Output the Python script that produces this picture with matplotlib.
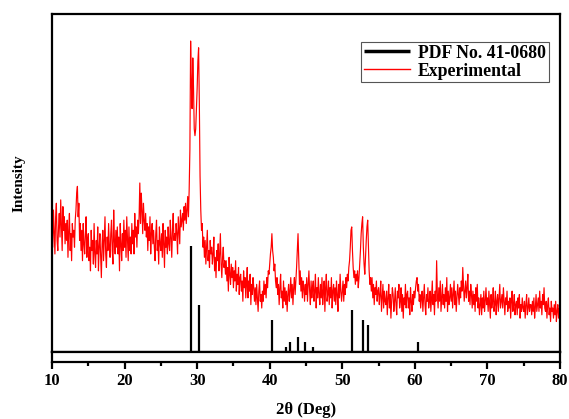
import numpy as np
import matplotlib.pyplot as plt

plt.rcParams['font.family'] = ['Liberation Serif', 'DejaVu Serif']
plt.rcParams['font.weight'] = 'bold'

# experimental pattern, 2theta from 10 to 80 in 0.1 deg steps
two_theta = np.round(np.arange(10.0, 80.05, 0.1), 1)
intensity = [
    38, 31, 42, 35, 29, 40, 44, 33, 30, 37,   # 10
    41, 34, 45, 38, 30, 43, 36, 40, 32, 38,   # 11
    33, 39, 28, 36, 41, 30, 35, 27, 38, 34,   # 12
    36, 31, 39, 42, 47, 49, 40, 44, 33, 38,   # 13
    30, 36, 27, 38, 32, 29, 35, 40, 28, 33,   # 14
    35, 27, 31, 24, 36, 30, 33, 26, 38, 29,   # 15
    25, 33, 29, 37, 24, 31, 35, 28, 22, 32,   # 16
    36, 27, 33, 40, 29, 25, 34, 30, 38, 31,   # 17
    28, 35, 39, 30, 26, 42, 33, 29, 36, 31,   # 18
    37, 29, 34, 24, 38, 32, 27, 35, 30, 39,   # 19
    31, 36, 28, 40, 33, 27, 37, 30, 34, 29,   # 20
    38, 32, 36, 29, 41, 34, 37, 31, 39, 35,   # 21
    40, 50, 38, 47, 42, 35, 44, 39, 36, 41,   # 22
    34, 38, 30, 37, 33, 40, 29, 35, 38, 32,   # 23
    36, 31, 27, 35, 39, 30, 33, 26, 37, 32,   # 24
    30, 35, 28, 38, 32, 25, 36, 31, 34, 29,   # 25
    37, 32, 30, 39, 34, 28, 36, 41, 33, 35,   # 26
    33, 38, 35, 29, 40, 36, 32, 42, 37, 39,   # 27
    41, 36, 43, 39, 44, 38, 42, 46, 40, 48,   # 28
    60, 92, 80, 72, 87, 78, 66, 64, 66, 72,   # 29
    78, 86, 90, 74, 52, 42, 36, 38, 31, 34,   # 30
    28, 33, 26, 31, 36, 27, 30, 25, 33, 29,   # 31
    31, 26, 29, 34, 24, 28, 22, 30, 27, 32,   # 32
    24, 29, 35, 26, 22, 28, 31, 25, 27, 23,   # 33
    27, 21, 25, 18, 28, 23, 20, 26, 22, 25,   # 34
    19, 24, 21, 27, 18, 23, 20, 25, 17, 22,   # 35
    23, 18, 21, 15, 24, 19, 22, 16, 20, 25,   # 36
    16, 21, 18, 23, 14, 20, 17, 22, 19, 15,   # 37
    19, 14, 20, 16, 12, 18, 21, 15, 17, 13,   # 38
    18, 15, 21, 17, 20, 16, 22, 19, 24, 23,   # 39
    26, 29, 31, 35, 30, 28, 24, 26, 21, 19,   # 40
    22, 17, 20, 14, 19, 23, 16, 18, 13, 21,   # 41
    15, 19, 14, 18, 12, 17, 20, 15, 18, 22,   # 42
    16, 20, 14, 19, 22, 17, 21, 25, 30, 35,   # 43
    27, 20, 24, 18, 22, 16, 21, 19, 15, 20,   # 44
    17, 22, 15, 20, 24, 18, 14, 21, 16, 19,   # 45
    21, 15, 18, 23, 13, 19, 16, 22, 17, 14,   # 46
    20, 16, 22, 14, 18, 21, 12, 19, 23, 15,   # 47
    17, 21, 14, 19, 16, 22, 13, 18, 20, 15,   # 48
    19, 14, 21, 17, 12, 20, 16, 23, 18, 15,   # 49
    18, 21, 15, 20, 17, 22, 19, 23, 21, 25,   # 50
    27, 31, 36, 37, 30, 25, 22, 24, 20, 23,   # 51
    21, 24, 19, 22, 26, 30, 35, 38, 40, 31,   # 52
    26, 23, 28, 33, 37, 39, 32, 24, 20, 22,   # 53
    18, 22, 16, 20, 14, 19, 17, 21, 15, 18,   # 54
    19, 14, 17, 21, 12, 16, 20, 13, 18, 15,   # 55
    14, 18, 11, 16, 20, 13, 17, 10, 15, 19,   # 56
    17, 12, 15, 19, 14, 11, 18, 16, 20, 13,   # 57
    15, 19, 12, 17, 10, 16, 14, 20, 13, 17,   # 58
    18, 13, 16, 11, 19, 15, 12, 17, 14, 18,   # 59
    16, 19, 21, 22, 18, 20, 15, 17, 13, 16,   # 60
    18, 12, 16, 20, 14, 11, 17, 15, 19, 13,   # 61
    15, 18, 12, 16, 21, 14, 17, 11, 18, 15,   # 62
    27, 17, 13, 19, 15, 21, 12, 16, 20, 14,   # 63
    17, 13, 19, 15, 22, 12, 18, 14, 16, 20,   # 64
    15, 19, 13, 17, 21, 14, 18, 12, 16, 20,   # 65
    17, 14, 19, 16, 21, 18, 25, 20, 15, 18,   # 66
    21, 16, 19, 23, 15, 18, 14, 20, 17, 13,   # 67
    18, 14, 17, 12, 19, 15, 20, 13, 16, 11,   # 68
    14, 17, 11, 16, 13, 18, 12, 15, 19, 14,   # 69
    16, 12, 18, 14, 10, 17, 13, 15, 19, 12,   # 70
    14, 18, 11, 15, 17, 12, 16, 20, 13, 15,   # 71
    17, 13, 19, 15, 11, 16, 14, 18, 12, 15,   # 72
    13, 16, 10, 15, 18, 12, 14, 17, 11, 14,   # 73
    15, 11, 16, 13, 17, 10, 14, 12, 16, 13,   # 74
    12, 15, 10, 14, 17, 11, 13, 16, 12, 14,   # 75
    14, 11, 15, 12, 16, 10, 13, 17, 12, 14,   # 76
    16, 12, 18, 13, 15, 11, 17, 14, 19, 13,   # 77
    12, 15, 10, 14, 16, 11, 13, 9, 15, 12,    # 78
    13, 10, 14, 11, 15, 9, 12, 14, 10, 13,    # 79
    12,                                       # 80
]

# reference card PDF No. 41-0680
pdf_pos = [29.1, 30.3, 40.3, 42.3, 42.8, 43.9, 44.9, 45.9, 51.4, 52.8, 53.6, 60.4]
pdf_height = [31.5, 14, 9.5, 1.5, 3, 4.5, 3, 1.5, 12.5, 9.5, 8, 3]

fig = plt.figure(figsize=(5.69, 4.19), dpi=100)
ax = fig.add_axes([0.0914, 0.16, 0.8928, 0.8066])
ax2 = fig.add_axes([0.0914, 0.136, 0.8928, 0.024], sharex=ax)

ax.vlines(pdf_pos, 0, pdf_height, color='black', lw=1.6, label='PDF No. 41-0680')
ax.plot(two_theta, intensity, color='red', lw=0.85, label='Experimental')

ax.set_xlim(10, 80)
ax.set_ylim(0, 100)
ax.tick_params(which='both', bottom=False, left=False, labelbottom=False, labelleft=False)
for s in ax.spines.values():
    s.set_linewidth(1.6)
ax.set_ylabel('Intensity', fontsize=11, fontweight='bold', labelpad=19)

ax2.set_yticks([])
for s in ax2.spines.values():
    s.set_linewidth(1.6)
ax2.set_xticks(range(10, 81, 10))
ax2.set_xticks(range(15, 80, 10), minor=True)
ax2.tick_params(axis='x', which='major', length=5, width=1.6, labelsize=12, pad=3)
ax2.tick_params(axis='x', which='minor', length=3, width=1.6)
for lbl in ax2.get_xticklabels():
    lbl.set_fontweight('bold')
ax2.set_xlabel('2θ (Deg)', fontsize=12, fontweight='bold', labelpad=9)

leg = ax.legend(loc='upper right', bbox_to_anchor=(0.978, 0.917), borderaxespad=0,
                prop={'weight': 'bold', 'size': 12.8}, fancybox=False, framealpha=1,
                edgecolor='#555555', handlelength=2.6, borderpad=0.15, labelspacing=0.05,
                handletextpad=0.45)
leg.get_frame().set_linewidth(0.8)
leg.legend_handles[0].set_linewidth(2.5)
leg.legend_handles[1].set_linewidth(1.0)

fig.savefig('out.png', dpi=100)
